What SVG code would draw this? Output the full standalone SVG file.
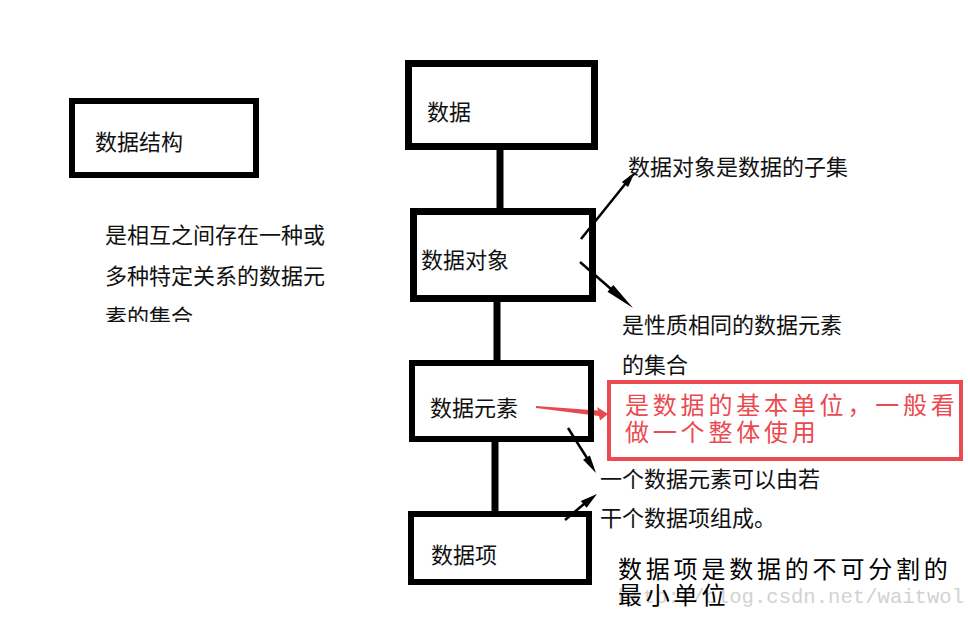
<svg xmlns="http://www.w3.org/2000/svg" width="968" height="617" viewBox="0 0 968 617">
<defs>
<style>
.box{fill:none;stroke:#000;}
.t{font-family:"Noto Sans CJK SC","Microsoft YaHei",sans-serif;font-size:22px;fill:#111;}
.big{font-family:"Noto Sans CJK SC",sans-serif;font-size:24px;letter-spacing:3.8px;}
.wm{font-family:"Liberation Mono",monospace;font-size:20.6px;fill:#d2d2d2;}
.ln{stroke:#000;stroke-width:2.5;fill:none;}
.hd{fill:#000;}
</style>
<clipPath id="clipDesc"><rect x="90" y="200" width="260" height="122"/></clipPath>
</defs>
<rect width="968" height="617" fill="#fff"/>

<g id="node-structure">
<rect class="box" x="72" y="101" width="184" height="74" stroke-width="6"/>
<text class="t" x="95" y="150">数据结构</text>
</g>
<g id="desc-structure" clip-path="url(#clipDesc)">
<text class="t" x="105" y="243">是相互之间存在一种或</text>
<text class="t" x="105" y="284">多种特定关系的数据元</text>
<text class="t" x="105" y="325">素的集合</text>
</g>

<g id="connectors">
<line x1="500" y1="150" x2="500" y2="210" stroke="#000" stroke-width="7"/>
<line x1="497" y1="300" x2="497" y2="362" stroke="#000" stroke-width="7"/>
<line x1="495" y1="440" x2="495" y2="514" stroke="#000" stroke-width="7"/>
<line class="ln" x1="581" y1="239" x2="626" y2="183"/>
<polygon class="hd" points="635,172 628.1,187 621.9,182"/>
<line class="ln" x1="580" y1="262" x2="611" y2="289"/>
<polygon class="hd" points="633,308 613.3,284.9 607.5,291.7"/>
<line class="ln" x1="568" y1="428" x2="587" y2="458"/>
<polygon class="hd" points="596,473 589.9,455.6 583.1,459.8"/>
<line class="ln" x1="565" y1="520" x2="584" y2="504"/>
<polygon class="hd" points="597,494 586.6,507.7 580.8,500.9"/>
<polygon fill="#e8484f" points="536,406 598,410.5 597,407 608,414 600,420.5 599,416 536,408"/>
</g>

<g id="node-data">
<rect class="box" x="408.5" y="63.5" width="186" height="83" stroke-width="7"/>
<text class="t" x="427" y="120">数据</text>
</g>
<g id="node-object">
<rect class="box" x="413.5" y="211.5" width="179" height="87" stroke-width="7"/>
<text class="t" x="421" y="268">数据对象</text>
</g>
<g id="node-element">
<rect class="box" x="412" y="363" width="179" height="76" stroke-width="6"/>
<text class="t" x="430" y="416">数据元素</text>
</g>
<g id="node-item">
<rect class="box" x="411" y="514" width="178" height="68" stroke-width="6"/>
<text class="t" x="431" y="563">数据项</text>
</g>

<g id="note-object">
<text class="t" x="628" y="175">数据对象是数据的子集</text>
<text class="t" x="622" y="333">是性质相同的数据元素</text>
<text class="t" x="622" y="373">的集合</text>
</g>
<g id="note-element">
<rect x="609" y="382" width="352" height="77" fill="none" stroke="#ea4a50" stroke-width="4"/>
<text class="big" x="625" y="414" fill="#ea4a50">是数据的基本单位，一般看</text>
<text class="big" x="625" y="441" fill="#ea4a50">做一个整体使用</text>
</g>
<g id="note-compose">
<text class="t" x="600" y="487">一个数据元素可以由若</text>
<text class="t" x="600" y="526">干个数据项组成。</text>
</g>
<text class="wm" x="618" y="603">http://blog.csdn.net/waitwol</text>
<g id="note-item">
<text class="big" x="618" y="578" fill="#000">数据项是数据的不可分割的</text>
<text class="big" x="618" y="604" fill="#000">最小单位</text>
</g>
</svg>
